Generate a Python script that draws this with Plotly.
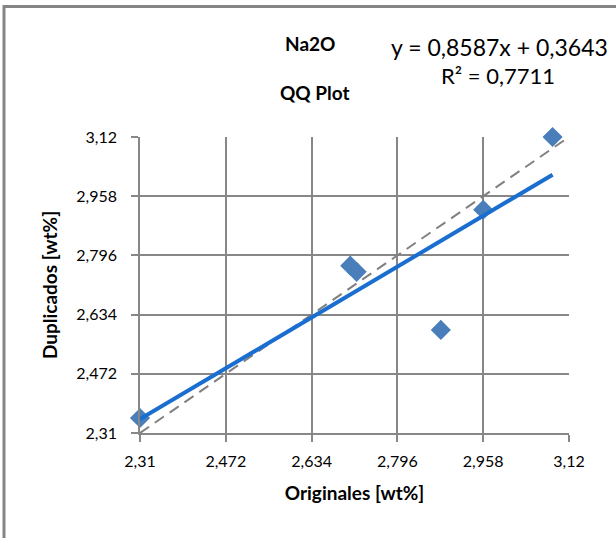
import plotly.graph_objects as go

# ---- data ----
originales = [2.31, 2.707, 2.719, 2.878, 2.958, 3.089]
duplicados = [2.351, 2.768, 2.751, 2.592, 2.921, 3.12]

slope = 0.8587
intercept = 0.3643
r2_text = "R² = 0,7711"
eq_text = "y = 0,8587x + 0,3643"

tick_vals = [2.31, 2.472, 2.634, 2.796, 2.958, 3.12]
tick_text = ["2,31", "2,472", "2,634", "2,796", "2,958", "3,12"]
axis_min, axis_max = 2.31, 3.12

FONT = "Lato, 'Open Sans', sans-serif"
GRID = "#878787"
FRAME = "#858585"

fig = go.Figure()

fig.add_trace(go.Scatter(
    x=originales, y=duplicados, mode="markers",
    marker=dict(symbol="diamond", size=15.5, color="#4A7EBB", line=dict(width=0)),
    cliponaxis=False, showlegend=False, name="Na2O"))

# 1:1 reference line
fig.add_trace(go.Scatter(
    x=[axis_min, axis_max], y=[axis_min, axis_max], mode="lines",
    line=dict(color="#808080", width=2, dash="11px,7px"),
    cliponaxis=False, showlegend=False, hoverinfo="skip"))

# linear trend line over the data range
tx = [min(originales), max(originales)]
ty = [slope * v + intercept for v in tx]
fig.add_trace(go.Scatter(
    x=tx, y=ty, mode="lines",
    line=dict(color="#1A6ED0", width=4),
    cliponaxis=False, showlegend=False, hoverinfo="skip"))

eps = 1e-6
axis_common = dict(
    range=[axis_min - eps, axis_max + eps], tickvals=tick_vals, ticktext=tick_text,
    showgrid=True, gridcolor=GRID, gridwidth=1.5,
    showline=True, linecolor=GRID, linewidth=1.5,
    ticks="outside", ticklen=7, tickcolor=GRID, tickwidth=1.5,
    zeroline=False, tickfont=dict(family=FONT, size=16, color="#000000"),
    fixedrange=True,
)

fig.update_layout(
    width=616, height=538,
    margin=dict(l=140, r=47, t=137, b=105, pad=0),
    paper_bgcolor="white", plot_bgcolor="white",
    font=dict(family=FONT, color="#000000"),
    xaxis=dict(**axis_common, ticklabelstandoff=6,
               title=dict(text="<b>Originales [wt%]</b>",
                          font=dict(family=FONT, size=19), standoff=18)),
    yaxis=dict(**axis_common, ticklabelstandoff=11,
               title=dict(text="<b>Duplicados [wt%]</b>",
                          font=dict(family=FONT, size=19), standoff=14)),
)

W, H = 616 - 140 - 47, 538 - 137 - 105


def px(xp):
    return (xp - 140) / W


def py(yp):
    return (538 - 105 - yp) / H


annos = [
    dict(text="<b>Na2O</b>", x=px(310), y=py(44), size=19),
    dict(text="<b>QQ Plot</b>", x=px(315), y=py(93), size=19),
    dict(text=eq_text, x=px(499), y=py(47), size=23),
    dict(text=r2_text, x=px(498), y=py(75), size=22),
]
for a in annos:
    fig.add_annotation(text=a["text"], x=a["x"], y=a["y"], xref="paper", yref="paper",
                       xanchor="center", yanchor="middle", showarrow=False,
                       font=dict(family=FONT, size=a["size"], color="#000000"))

# chart frame (cropped Excel chart border: only left and top edges are in view)
fig.add_shape(type="line", xref="paper", yref="paper", layer="above",
              x0=px(3), x1=px(310), y0=py(6.5), y1=py(6.5),
              line=dict(color=FRAME, width=3))
fig.add_shape(type="line", xref="paper", yref="paper", layer="above",
              x0=px(305), x1=px(616), y0=py(6.5), y1=py(6.5),
              line=dict(color=FRAME, width=3))
fig.add_shape(type="line", xref="paper", yref="paper", layer="above",
              x0=px(4), x1=px(4), y0=py(5), y1=py(538),
              line=dict(color=FRAME, width=3))

fig.write_html("out.html", config={"displayModeBar": False},
               post_script="document.body.style.margin='0px';document.body.style.overflow='hidden';")
